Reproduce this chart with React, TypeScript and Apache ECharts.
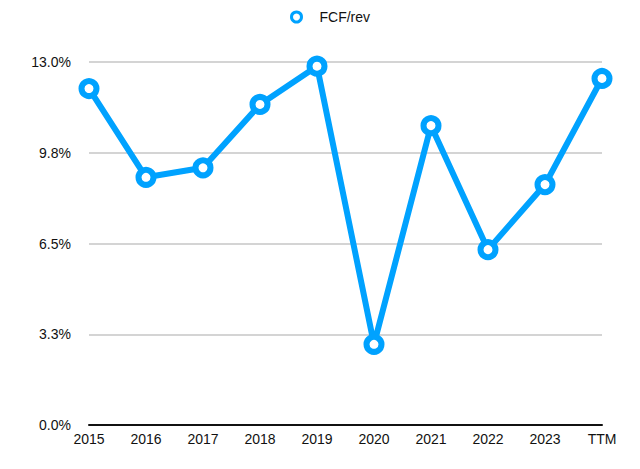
import React, { useEffect, useRef } from "react";
import * as echarts from "echarts";

const categories = ["2015", "2016", "2017", "2018", "2019", "2020", "2021", "2022", "2023", "TTM"];
const fcfRev = [12.05, 8.87, 9.21, 11.48, 12.85, 2.89, 10.72, 6.28, 8.61, 12.41];
const seriesName = "FCF/rev";

export default function App() {
  const ref = useRef<HTMLDivElement>(null);
  useEffect(() => {
    if (!ref.current) return;
    const chart = echarts.init(ref.current, null, { renderer: "svg" });
    const font = "'Liberation Sans', Arial, Helvetica, sans-serif";
    chart.setOption({
      animation: false,
      backgroundColor: "#ffffff",
      legend: {
        top: 5,
        left: 285,
        itemWidth: 36,
        itemHeight: 10,
        itemGap: 10,
        textStyle: { fontFamily: font, fontSize: 14, color: "#111" },
        data: [{ name: seriesName, icon: "circle" }],
        itemStyle: { color: "#ffffff", borderColor: "#00A2FF", borderWidth: 3 },
      },
      grid: { left: 89, right: 38, top: 62, bottom: 44, containLabel: false },
      xAxis: {
        type: "category",
        data: categories,
        boundaryGap: false,
        axisLine: { show: true, lineStyle: { color: "#111", width: 2 } },
        axisTick: { show: false },
        axisLabel: { fontFamily: font, fontSize: 14, color: "#111", margin: 7 },
        splitLine: { show: false },
      },
      yAxis: {
        type: "value",
        min: 0,
        max: 13,
        interval: 3.25,
        axisLine: { show: false },
        axisTick: { show: false },
        axisLabel: {
          fontFamily: font,
          fontSize: 14,
          color: "#111",
          margin: 18,
          formatter: (v: number) => v.toFixed(1) + "%",
        },
        splitLine: { show: true, lineStyle: { color: "#c6c6c6", width: 1.5 } },
      },
      series: [
        {
          name: seriesName,
          type: "line",
          data: fcfRev,
          symbol: "circle",
          symbolSize: 15,
          showAllSymbol: true,
          lineStyle: { color: "#00A2FF", width: 6 },
          itemStyle: { color: "#ffffff", borderColor: "#00A2FF", borderWidth: 6 },
          z: 3,
        },
      ],
    });
    return () => chart.dispose();
  }, []);
  return <div ref={ref} style={{ width: 640, height: 469, margin: -8 }} />;
}
